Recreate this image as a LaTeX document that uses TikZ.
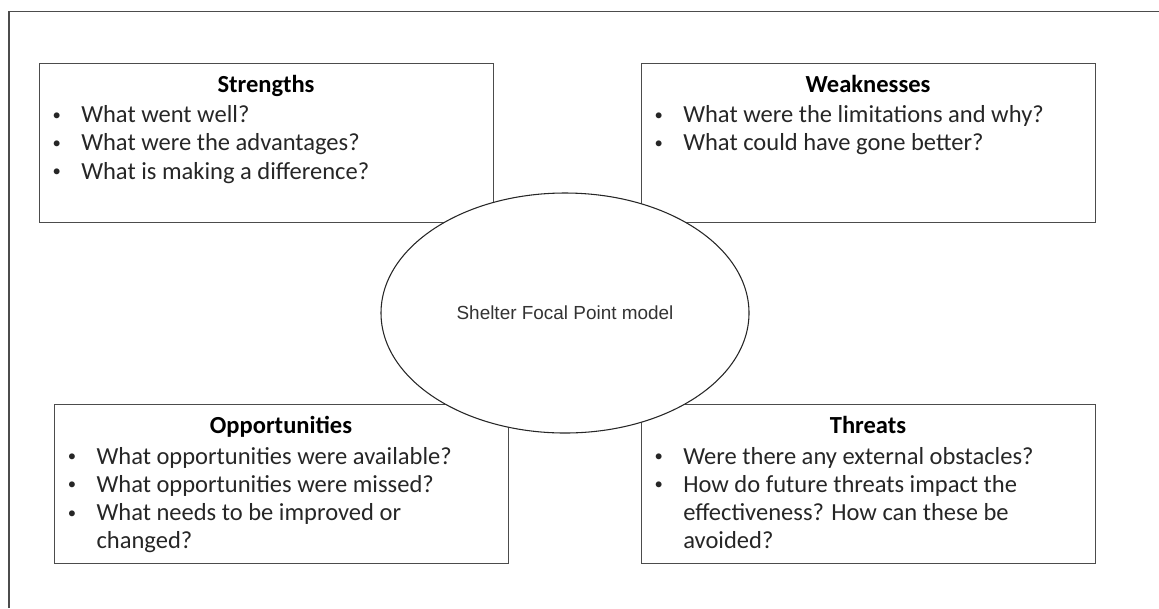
\documentclass[tikz,border=0pt]{standalone}
\usepackage{fontspec}
\setmainfont{Carlito}
\newfontfamily\arialfont{Liberation Sans}
\usetikzlibrary{shapes.geometric}
% bullet and hanging indent for the question lists
\newcommand{\blt}{\makebox[22.5pt][l]{\hspace*{1pt}\raisebox{1.8pt}{\fontsize{12.5}{12.5}\selectfont\textbullet}}}
\newcommand{\nob}{\hspace*{22.5pt}}

\begin{document}
\begin{tikzpicture}[x=0.75pt, y=-0.75pt,
  box/.style={draw=black!70, line width=0.8pt, anchor=north west, inner sep=0pt,
    minimum width=340.5pt, minimum height=119.25pt},
  head/.style={anchor=base, font=\fontsize{18.4}{21.15}\selectfont\bfseries},
  items/.style={anchor=base west, align=left, inner sep=0pt, text=black!85,
    font=\fontsize{18.4}{21.15}\selectfont}]
\useasboundingbox (0,0) rectangle (1159,608);
\draw[black!70, line width=0.8pt] (9,608) |- (1159,11.7);

% the four boxes
\node[box] (str) at (39,62.7) {};
\node[box] (wea) at (641,62.7) {};
\node[box] (opp) at (54.3,404) {};
\node[box] (thr) at (641,404) {};

% titles on their baselines, lists placed by their last baseline
\node[head] (strh) at (266,92.2) {Strengths};
\node[items] (strl) at (51,179.1) {\blt What went well?\\ \blt What were the advantages?\\ \blt What is making a difference?};
\node[head] (weah) at (868,92.2) {Weaknesses};
\node[items] (weal) at (653,150.9) {\blt What were the limitations and why?\\ \blt What could have gone better?};
\node[head] (opph) at (281,433.5) {Opportunities};
\node[items] (oppl) at (66.3,548.6) {\blt What opportunities were available?\\ \blt What opportunities were missed?\\ \blt What needs to be improved or\\ \nob changed?};
\node[head] (thrh) at (868,433.5) {Threats};
\node[items] (thrl) at (653,548.6) {\blt Were there any external obstacles?\\ \blt How do future threats impact the\\ \nob effectiveness? How can these be\\ \nob avoided?};

% model in the middle, over the box corners
\node[ellipse, draw=black!85, line width=0.8pt, fill=white, inner sep=0pt,
  minimum width=276pt, minimum height=180pt, text=black!80,
  font=\arialfont\fontsize{14.2}{17}\selectfont] (sfp) at (565,313) {Shelter Focal Point model};
\end{tikzpicture}
\end{document}
